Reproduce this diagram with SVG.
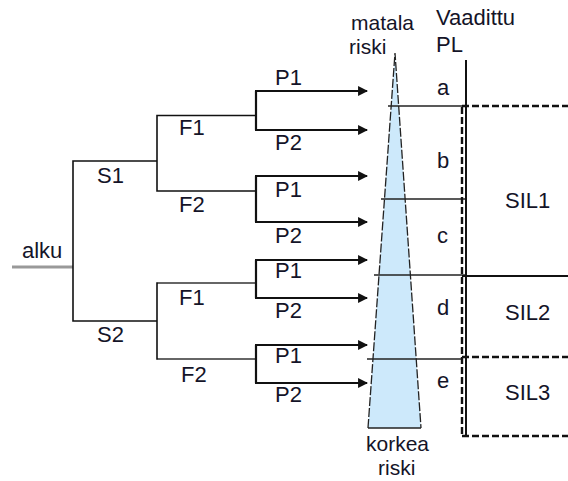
<svg xmlns="http://www.w3.org/2000/svg" width="568" height="481" viewBox="0 0 568 481">
  <style>
    text { font-family: "Liberation Sans", Arial, sans-serif; font-size: 22px; fill: #141428; }
    .tight { font-size: 21px; }
    .tree { fill: none; stroke: #111; stroke-width: 1.6; }
    .tree-soft { fill: none; stroke: #666; stroke-width: 1.8; }
    .start { stroke: #999; stroke-width: 3; }
    .branch { fill: none; stroke: #111; stroke-width: 2.2; }
    .arrow { stroke: #111; stroke-width: 2.2; marker-end: url(#head); }
    .level { stroke: #222; stroke-width: 1.5; }
    .solid { stroke: #111; stroke-width: 2; }
    .dash { stroke: #111; stroke-width: 2.4; stroke-dasharray: 7 3; fill: none; }
  </style>
  <defs>
    <marker id="head" viewBox="0 0 10 10" refX="9" refY="5" markerWidth="5" markerHeight="4.5" orient="auto" markerUnits="strokeWidth">
      <path d="M0,0 L10,5 L0,10 z" fill="#111"/>
    </marker>
  </defs>

  <!-- risk wedge -->
  <g id="risk-wedge">
    <polygon points="395,53 421,428 368,428" fill="#cde9fb" stroke="none"/>
    <path d="M368,428 L395,53 L421,428" fill="none" stroke="#222" stroke-width="1.3" stroke-dasharray="9 2"/>
    <line x1="368" y1="428" x2="421" y2="428" stroke="#222" stroke-width="1.6"/>
    <text class="tight" x="351" y="30">matala</text>
    <text class="tight" x="349" y="54">riski</text>
    <text class="tight" x="366" y="451">korkea</text>
    <text class="tight" x="378" y="475">riski</text>
  </g>

  <!-- decision tree connectors -->
  <g id="connectors">
    <line class="start" x1="12" y1="267" x2="73" y2="267"/>
    <path class="tree" d="M157,161 H73 V321 H157"/>
    <path class="tree" d="M256,115.5 H157 V191 H256"/>
    <path class="tree" d="M256,283 H157 V359 H256"/>
    <line class="tree-soft" x1="158" y1="283" x2="255" y2="283"/>
    <line class="tree-soft" x1="158" y1="359" x2="255" y2="359"/>
    <path class="branch" d="M256,91 V130"/>
    <path class="branch" d="M256,176 V222"/>
    <path class="branch" d="M256,260 V298"/>
    <path class="branch" d="M256,345 V383"/>
    <line class="arrow" x1="255" y1="91" x2="367" y2="91"/>
    <line class="arrow" x1="255" y1="130" x2="367" y2="130"/>
    <line class="arrow" x1="255" y1="176" x2="367" y2="176"/>
    <line class="arrow" x1="255" y1="222" x2="367" y2="222"/>
    <line class="arrow" x1="255" y1="260" x2="367" y2="260"/>
    <line class="arrow" x1="255" y1="298" x2="367" y2="298"/>
    <line class="arrow" x1="255" y1="345" x2="367" y2="345"/>
    <line class="arrow" x1="255" y1="383" x2="367" y2="383"/>
  </g>

  <!-- branch labels -->
  <g id="start"><text x="22" y="258">alku</text></g>
  <g id="s1"><text x="97" y="183">S1</text></g>
  <g id="s2"><text x="97" y="342">S2</text></g>
  <g id="f1-upper"><text x="179" y="135">F1</text></g>
  <g id="f2-upper"><text x="179" y="212">F2</text></g>
  <g id="f1-lower"><text x="179" y="305">F1</text></g>
  <g id="f2-lower"><text x="181" y="382">F2</text></g>
  <g id="p-labels">
    <text x="275" y="85">P1</text>
    <text x="275" y="150">P2</text>
    <text x="275" y="197">P1</text>
    <text x="275" y="243">P2</text>
    <text x="275" y="278">P1</text>
    <text x="275" y="318">P2</text>
    <text x="275" y="363">P1</text>
    <text x="275" y="402">P2</text>
  </g>

  <!-- required performance level scale -->
  <g id="pl-scale">
    <text x="436" y="25">Vaadittu</text>
    <text x="436" y="52">PL</text>
    <line class="level" x1="388" y1="106" x2="466" y2="106"/>
    <line class="level" x1="381" y1="199" x2="466" y2="199"/>
    <line class="level" x1="374" y1="275" x2="466" y2="275"/>
    <line class="level" x1="367" y1="359" x2="462" y2="359"/>
    <line class="solid" x1="466" y1="60" x2="466" y2="436"/>
    <text x="437" y="95">a</text>
    <text x="437" y="168">b</text>
    <text x="437" y="243">c</text>
    <text x="437" y="315">d</text>
    <text x="437" y="388">e</text>
  </g>

  <!-- SIL bands -->
  <g id="sil-bands">
    <line class="dash" x1="462" y1="106" x2="568" y2="106"/>
    <line class="dash" x1="462" y1="107" x2="462" y2="436"/>
    <line class="dash" x1="462" y1="436" x2="568" y2="436"/>
    <line class="solid" x1="462" y1="276" x2="568" y2="276"/>
    <line class="dash" x1="462" y1="357" x2="568" y2="357"/>
    <text x="505" y="208">SIL1</text>
    <text x="505" y="320">SIL2</text>
    <text x="505" y="400">SIL3</text>
  </g>
</svg>
